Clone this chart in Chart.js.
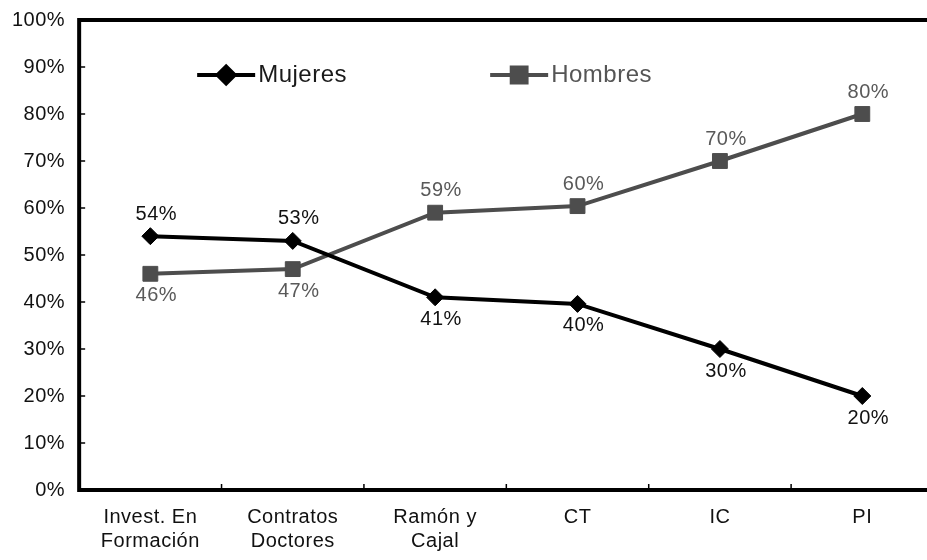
<!DOCTYPE html>
<html>
<head>
<meta charset="utf-8">
<script src="https://cdn.jsdelivr.net/npm/chart.js@4.4.1/dist/chart.umd.min.js"></script>
<style>
  html, body { margin: 0; padding: 0; background: #fff; overflow: hidden; }
  #clip { width: 927px; height: 560px; overflow: hidden; position: relative; }
  #wrap { width: 945px; height: 578px; position: absolute; left: 0; top: -6px; }
</style>
</head>
<body>
<div id="clip"><div id="wrap"><canvas id="chart"></canvas></div></div>
<script>
const categories = [['Invest. En', 'Formación'], ['Contratos', 'Doctores'], ['Ramón y', 'Cajal'], 'CT', 'IC', 'PI'];
const mujeres = [54, 53, 41, 39.6, 30, 20];
const hombres = [46, 47, 59, 60.4, 70, 80];
// which side of the point each value label sits on (-1 above, 1 below)
const mujeresLabelSide = [-1, -1, 1, 1, 1, 1];
const hombresLabelSide = [1, 1, -1, -1, -1, -1];

const FONT = "'Liberation Sans', Arial, sans-serif";
const BLACK = '#000000';
const GREY = '#4d4d4d';
const SPACING = '0.5px';

const spacing = {
  id: 'spacing',
  beforeLayout(chart) { chart.ctx.letterSpacing = SPACING; },
  beforeDraw(chart) { chart.ctx.letterSpacing = SPACING; }
};

const frame = {
  id: 'frame',
  beforeDatasetsDraw(chart) {
    const { ctx, chartArea: a, scales } = chart;
    ctx.save();
    ctx.strokeStyle = '#000';
    // inward ticks
    ctx.lineWidth = 1.5;
    ctx.beginPath();
    scales.y.ticks.forEach(t => {
      const y = scales.y.getPixelForValue(t.value);
      ctx.moveTo(a.left, y); ctx.lineTo(a.left + 6, y);
    });
    for (let i = 0; i <= categories.length; i++) {
      const x = scales.x.getPixelForValue(i - 0.5);
      ctx.moveTo(x, a.bottom); ctx.lineTo(x, a.bottom - 6);
    }
    ctx.stroke();
    ctx.lineWidth = 4;
    ctx.strokeRect(a.left, a.top, a.right - a.left, a.bottom - a.top);
    ctx.restore();
  }
};

const valueLabels = {
  id: 'valueLabels',
  afterDatasetsDraw(chart) {
    const ctx = chart.ctx;
    const sides = [mujeresLabelSide, hombresLabelSide];
    const colors = ['#111111', '#595959'];
    ctx.save();
    ctx.font = '20px ' + FONT;
    ctx.textAlign = 'center';
    ctx.textBaseline = 'middle';
    chart.data.datasets.forEach((ds, di) => {
      ctx.fillStyle = colors[di];
      chart.getDatasetMeta(di).data.forEach((pt, i) => {
        ctx.fillText(Math.round(ds.data[i]) + '%', pt.x + 6, pt.y + sides[di][i] * 22);
      });
    });
    ctx.restore();
  }
};

const innerLegend = {
  id: 'innerLegend',
  afterDraw(chart) {
    const { ctx, chartArea: a } = chart;
    const y = a.top + 55;
    const starts = [a.left + 118, a.left + 411];
    const textColors = ['#1a1a1a', '#555555'];
    ctx.save();
    ctx.font = '24px ' + FONT;
    ctx.textBaseline = 'middle';
    chart.data.datasets.forEach((ds, di) => {
      const x0 = starts[di];
      ctx.strokeStyle = ds.borderColor;
      ctx.fillStyle = ds.borderColor;
      ctx.lineWidth = 4;
      ctx.beginPath();
      ctx.moveTo(x0, y); ctx.lineTo(x0 + 58, y);
      ctx.stroke();
      Chart.helpers.drawPoint(ctx, { pointStyle: ds.pointStyle, radius: ds.pointRadius, rotation: 0, borderWidth: 1 }, x0 + 29, y);
      ctx.fillStyle = textColors[di];
      ctx.fillText(ds.label, x0 + 61, y);
    });
    ctx.restore();
  }
};

new Chart(document.getElementById('chart'), {
  type: 'line',
  data: {
    labels: categories,
    datasets: [
      {
        label: 'Mujeres',
        data: mujeres,
        borderColor: BLACK,
        backgroundColor: BLACK,
        borderWidth: 4,
        pointStyle: 'rectRot',
        pointRadius: 8.5,
        pointHoverRadius: 8.5,
        pointBorderWidth: 1,
        tension: 0
      },
      {
        label: 'Hombres',
        data: hombres,
        borderColor: GREY,
        backgroundColor: GREY,
        borderWidth: 4,
        pointStyle: 'rect',
        pointRadius: 10.5,
        pointHoverRadius: 10.5,
        pointBorderWidth: 1,
        tension: 0
      }
    ]
  },
  options: {
    responsive: true,
    maintainAspectRatio: false,
    animation: false,
    layout: { padding: { top: -1, left: -2, right: -13, bottom: 4 } },
    plugins: {
      legend: { display: false },
      tooltip: { enabled: false }
    },
    scales: {
      x: {
        offset: true,
        grid: { display: false, drawTicks: false },
        border: { display: false },
        ticks: {
          color: '#111',
          font: { family: FONT, size: 20, lineHeight: 1.2 },
          padding: 15,
          maxRotation: 0,
          autoSkip: false
        }
      },
      y: {
        min: 0,
        max: 100,
        grid: { display: false, drawTicks: false },
        border: { display: false },
        ticks: {
          stepSize: 10,
          color: '#111',
          font: { family: FONT, size: 20 },
          padding: 14,
          callback: v => v + '%'
        }
      }
    }
  },
  plugins: [spacing, frame, valueLabels, innerLegend]
});
</script>
</body>
</html>
